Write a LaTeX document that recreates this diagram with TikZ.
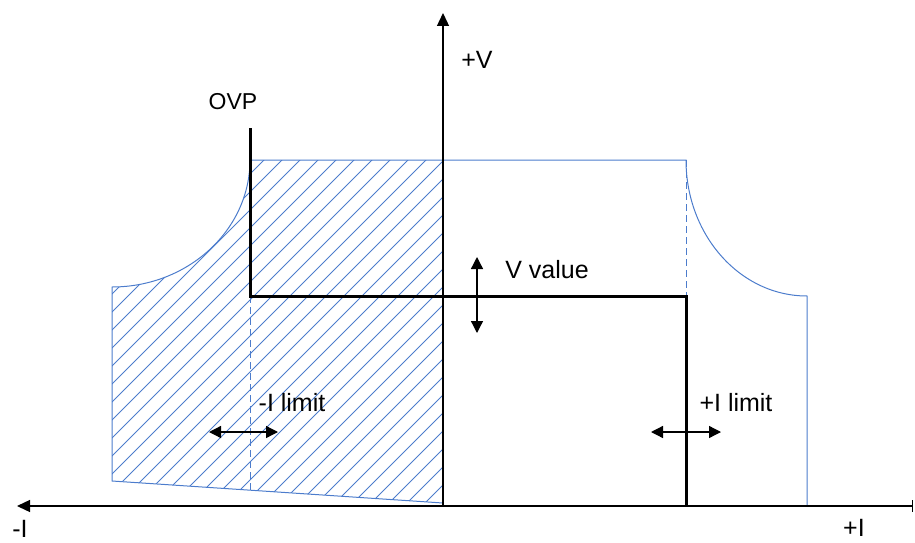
\documentclass[tikz,border=0pt]{standalone}
\usepackage{fontspec}
\setmainfont{Liberation Sans}
\usetikzlibrary{arrows.meta}
\definecolor{curveblue}{RGB}{76,124,204}
\begin{document}
\begin{tikzpicture}[x=1pt,y=-1pt,
  lbl/.style={inner sep=0pt, font=\fontsize{25}{30}\selectfont},
  smalllbl/.style={inner sep=0pt, font=\fontsize{23}{27}\selectfont},
  outline/.style={draw=curveblue, line width=1pt, line join=miter},
  hatch/.style={draw=curveblue, line width=0.9pt},
  limitdash/.style={draw=curveblue, line width=0.9pt, dash pattern=on 7pt off 4pt},
  axisline/.style={draw=black, line width=1.3pt},
  setline/.style={draw=black, line width=3pt, line join=miter},
  dblarrow/.style={draw=black, line width=1.3pt, {Triangle[length=12pt,width=12pt]}-{Triangle[length=12pt,width=12pt]}}
]
\useasboundingbox (0,0) rectangle (915,543);

% hatched region
\begin{scope}
  \clip (443,503) -- (112,481) -- (112,287) .. controls (188,287) and (250,230) .. (250,160) -- (443,160) -- cycle;
  \foreach \k in {-34,...,8} {
    \draw[hatch] ({838+18*\k-600},600) -- ({838+18*\k},0);
  }
\end{scope}

% blue operating envelope
\coordinate (bl) at (443,503);
\coordinate (blL) at (112,481);
\coordinate (cl) at (112,287);
\coordinate (tl) at (250,160);
\coordinate (tr) at (686,160);
\coordinate (cr) at (807,296);
\coordinate (br) at (807,506);
\draw[outline] (bl) -- (blL) -- (cl) .. controls (188,287) and (250,230) .. (tl) -- (tr)
  .. controls (686,235) and (740,296) .. (cr) -- (br);

% dashed limit lines
\coordinate (dlt) at (250,296);
\coordinate (dlb) at (250,490);
\coordinate (drt) at (686,160);
\coordinate (drb) at (686,296);
\draw[limitdash] (dlt) -- (dlb);
\draw[limitdash] (drt) -- (drb);

% axes
\coordinate (origin) at (443,506);
\coordinate (vtop) at (443,13);
\coordinate (hleft) at (17,506);
\coordinate (hright) at (913,506);
\draw[axisline, -{Triangle[length=13pt,width=12pt]}] (origin) -- (vtop);
\draw[axisline, {Bar[width=12pt]}-{Triangle[length=13pt,width=12pt]}] (hright) -- (hleft);

% set line
\coordinate (ovptop) at (250,128);
\coordinate (ovpcorner) at (250,296);
\coordinate (icorner) at (686,296);
\coordinate (ibottom) at (686,506);
\draw[setline] (ovptop) -- (ovpcorner) -- (icorner) -- (ibottom);

% adjustment arrows
\coordinate (vup) at (477,257);
\coordinate (vdown) at (477,333);
\draw[dblarrow] (vup) -- (vdown);
\coordinate (nl) at (209,432);
\coordinate (nr) at (278,432);
\draw[dblarrow] (nl) -- (nr);
\coordinate (pl) at (651,432);
\coordinate (pr) at (721,432);
\draw[dblarrow] (pl) -- (pr);

% labels
\node[lbl] (plusV) at (477,60) {+V};
\node[smalllbl] (ovp) at (233,102) {OVP};
\node[lbl] (vval) at (547,270) {V value};
\node[lbl] (nlim) at (292,403) {-I limit};
\node[lbl] (plim) at (736,403) {+I limit};
\node[lbl] (minusI) at (20,529) {-I};
\node[lbl] (plusI) at (854,528) {+I};
\end{tikzpicture}
\end{document}
